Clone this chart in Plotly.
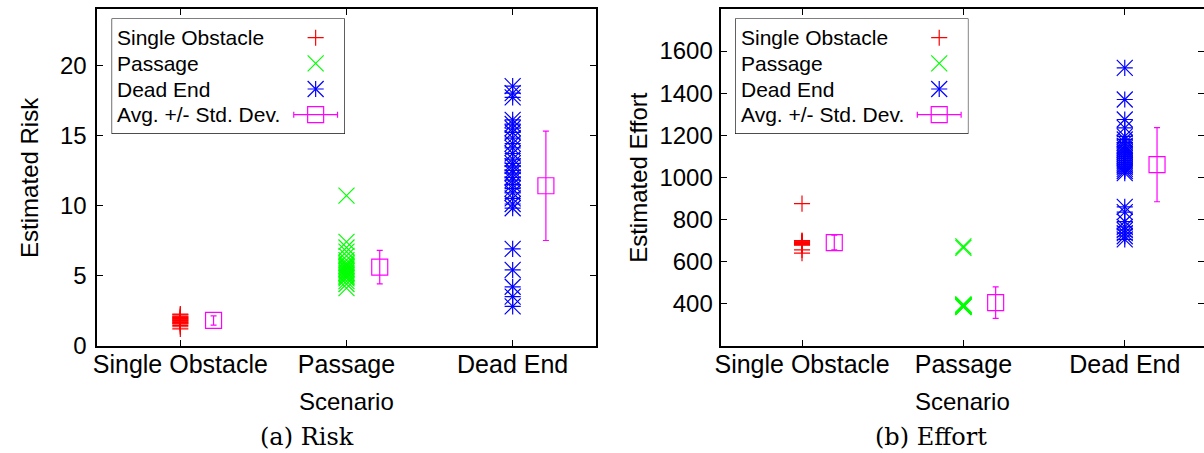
import plotly.graph_objects as go

W, H = 1204, 453
H_EFF = 440.0  # height the page actually gives the paper area

# ---------------- data ----------------
categories = ["Single Obstacle", "Passage", "Dead End"]
cat_pos = [1, 2, 3]

risk_single = [1.2, 1.35, 1.45, 1.55, 1.6, 1.65, 1.7, 1.75, 1.8, 1.85, 1.9, 1.95, 2.0, 2.05, 2.1, 2.2, 2.25]
risk_passage = [10.7, 7.4, 7.0, 6.7, 6.4, 6.1, 5.9, 5.8, 5.7, 5.6, 5.5, 5.4, 5.3, 5.2, 5.1, 5.0, 4.9, 4.8, 4.6, 4.4, 4.1]
risk_deadend = [18.5, 18.0, 17.7, 16.1, 15.8, 15.5, 15.2, 14.8, 14.4, 14.1, 13.7, 13.3, 13.0, 12.8,
                12.5, 12.3, 12.0, 11.8, 11.5, 11.2, 10.9, 10.5, 10.1, 9.8, 6.9, 5.4, 4.2, 3.5, 2.8]
risk_avg = [1.8, 5.6, 11.4]
risk_std = [0.33, 1.2, 3.9]

effort_single = [875, 700, 697, 694, 691, 688, 685, 682, 680, 678, 655, 640]
effort_passage = [672, 665, 396, 394, 392, 390, 389, 388, 387, 386, 385, 384, 391, 393]
effort_deadend = [1520, 1370, 1275, 1235, 1195, 1180, 1165, 1150, 1140, 1130, 1120, 1110, 1100, 1090,
                  1080, 1070, 1060, 1050, 1040, 1030, 1020, 860, 835, 790, 765, 750, 735, 720, 705]
effort_avg = [690, 405, 1060]
effort_std = [35, 75, 176]

risk_ticks = [0, 5, 10, 15, 20]
effort_ticks = [400, 600, 800, 1000, 1200, 1400, 1600]

legend_labels = ["Single Obstacle", "Passage", "Dead End", "Avg. +/- Std. Dev."]

# ---------------- style ----------------
RED, GREEN, BLUE, MAG = "#ff0000", "#00ff00", "#0000ff", "#ff00ff"
FONT = "Liberation Sans"
AVG_OFFSET = 0.2
LW = 1.2

PLUS = dict(symbol="cross-thin", size=11.5)
XM = dict(symbol="x-thin", size=16)


def px_x(p):
    return p / W


def px_y(p):
    return 1 - p / H_EFF


fig = go.Figure()


def marker_traces(xs, ys, kind, xa, ya):
    if kind == "plus":
        specs = [(PLUS, RED)]
    elif kind == "x":
        specs = [(XM, GREEN)]
    else:
        specs = [(PLUS, BLUE), (XM, BLUE)]
    for sym, col in specs:
        fig.add_trace(go.Scatter(x=xs, y=ys, mode="markers", xaxis=xa, yaxis=ya, showlegend=False,
                                 marker=dict(symbol=sym["symbol"], size=sym["size"], line=dict(color=col, width=LW))))


def add_panel(xa, ya, single, passage, deadend, avg, std):
    marker_traces([cat_pos[0]] * len(single), single, "plus", xa, ya)
    marker_traces([cat_pos[1]] * len(passage), passage, "x", xa, ya)
    marker_traces([cat_pos[2]] * len(deadend), deadend, "star", xa, ya)
    fig.add_trace(go.Scatter(x=[c + AVG_OFFSET for c in cat_pos], y=avg, mode="markers", xaxis=xa, yaxis=ya,
                             marker=dict(symbol="square-open", size=16, color=MAG, line=dict(color=MAG, width=LW)),
                             error_y=dict(type="data", array=std, visible=True, color=MAG, thickness=LW, width=3),
                             showlegend=False))


add_panel("x", "y", risk_single, risk_passage, risk_deadend, risk_avg, risk_std)
add_panel("x2", "y2", effort_single, effort_passage, effort_deadend, effort_avg, effort_std)

# legend samples on overlay axes (pixel units inside legend box)
BOX_W, BOX_H = 233.3, 114.3
row_y = [BOX_H - 18.7, BOX_H - 44.3, BOX_H - 70.0, BOX_H - 95.7]
sample_x = 204.5
for xa, ya in (("x3", "y3"), ("x4", "y4")):
    marker_traces([sample_x], [row_y[0]], "plus", xa, ya)
    marker_traces([sample_x], [row_y[1]], "x", xa, ya)
    marker_traces([sample_x], [row_y[2]], "star", xa, ya)
    fig.add_trace(go.Scatter(x=[sample_x], y=[row_y[3]], mode="markers", xaxis=xa, yaxis=ya, showlegend=False,
                             marker=dict(symbol="square-open", size=16, color=MAG, line=dict(color=MAG, width=LW)),
                             error_x=dict(type="constant", value=22, visible=True, color=MAG, thickness=LW, width=3)))

# dummy trace for right-side tick axis of right panel
fig.add_trace(go.Scatter(x=[None], y=[None], xaxis="x2", yaxis="y5", showlegend=False, hoverinfo="skip"))

ydom = [px_y(345.7), px_y(9)]
axis_common = dict(showline=True, linecolor="black", linewidth=1.5, showgrid=False, zeroline=False,
                   ticks="inside", ticklen=6, tickcolor="black", tickwidth=1)
xfont = dict(family=FONT, size=25, color="black")
yfont = dict(family=FONT, size=24, color="black")

fig.update_layout(
    width=W, height=H, margin=dict(l=0, r=0, t=0, b=0),
    paper_bgcolor="white", plot_bgcolor="white", showlegend=False,
    xaxis=dict(domain=[px_x(91.7), px_x(592.7)], range=[0.5, 3.5], tickvals=cat_pos, ticktext=categories,
               anchor="y", mirror="ticks", tickfont=xfont, ticklabelstandoff=-4, **axis_common),
    yaxis=dict(domain=ydom, range=[0, 24], tickvals=risk_ticks, anchor="x", mirror="ticks", tickfont=yfont,
               ticklabelstandoff=4, **axis_common),
    xaxis2=dict(domain=[px_x(718.9), 1.0], range=[0.5, 3.491], tickvals=cat_pos, ticktext=categories,
                anchor="y2", mirror="ticks", tickfont=xfont, ticklabelstandoff=-4, **axis_common),
    yaxis2=dict(domain=ydom, range=[200, 1800], tickvals=effort_ticks, anchor="x2", mirror=False, tickfont=yfont,
                ticklabelstandoff=2, **axis_common),
    yaxis5=dict(domain=ydom, range=[200, 1800], tickvals=effort_ticks, anchor="x2", overlaying="y2", side="right",
                showline=False, showgrid=False, zeroline=False, ticks="inside", ticklen=6, tickcolor="black",
                showticklabels=False),
    xaxis3=dict(domain=[px_x(106.7), px_x(340)], range=[0, BOX_W], visible=False, anchor="y3"),
    yaxis3=dict(domain=[px_y(133.3), px_y(19)], range=[0, BOX_H], visible=False, anchor="x3"),
    xaxis4=dict(domain=[px_x(733.3), px_x(966.7)], range=[0, BOX_W], visible=False, anchor="y4"),
    yaxis4=dict(domain=[px_y(133.3), px_y(19)], range=[0, BOX_H], visible=False, anchor="x4"),
)

shapes = []
annotations = []
for bx in (106.7, 733.3):
    shapes.append(dict(type="rect", xref="paper", yref="paper", x0=px_x(bx), x1=px_x(bx + BOX_W),
                       y0=px_y(133.3), y1=px_y(19), line=dict(color="black", width=1.2), fillcolor="white",
                       layer="below"))
for xa, ya in (("x3", "y3"), ("x4", "y4")):
    for lab, yy in zip(legend_labels, row_y):
        annotations.append(dict(xref=xa, yref=ya, x=3.0, y=yy, text=lab, showarrow=False, xanchor="left",
                                yanchor="middle", font=dict(family=FONT, size=21, color="black")))

title_font = dict(family=FONT, size=24, color="black")
annotations += [
    dict(xref="paper", yref="paper", x=px_x(342), y=px_y(401), text="Scenario", showarrow=False,
         xanchor="center", yanchor="middle", font=title_font),
    dict(xref="paper", yref="paper", x=px_x(961), y=px_y(401), text="Scenario", showarrow=False,
         xanchor="center", yanchor="middle", font=title_font),
    dict(xref="paper", yref="paper", x=px_x(23), y=px_y(177), text="Estimated Risk", showarrow=False,
         textangle=-90, xanchor="center", yanchor="middle", font=title_font),
    dict(xref="paper", yref="paper", x=px_x(635), y=px_y(177), text="Estimated Effort", showarrow=False,
         textangle=-90, xanchor="center", yanchor="middle", font=title_font),
    dict(xref="paper", yref="paper", x=px_x(303), y=px_y(437), text="(a) Risk", showarrow=False,
         xanchor="center", yanchor="middle", font=dict(family="DejaVu Serif", size=24, color="black")),
    dict(xref="paper", yref="paper", x=px_x(930), y=px_y(437), text="(b) Effort", showarrow=False,
         xanchor="center", yanchor="middle", font=dict(family="DejaVu Serif", size=24, color="black")),
]
fig.update_layout(shapes=shapes, annotations=annotations)

fig.write_html("out.html")
